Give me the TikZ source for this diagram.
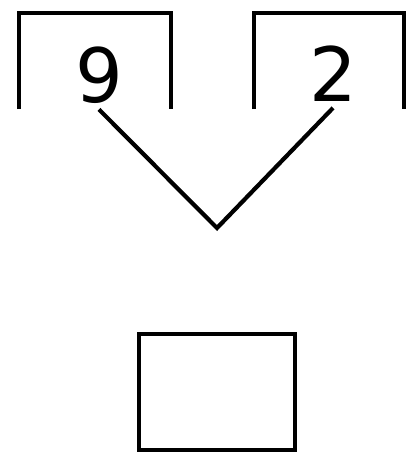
\documentclass[tikz,border=0pt]{standalone}
\usepackage{fontspec}
\newfontfamily\digitfont{DejaVu Sans}
\begin{document}
\begin{tikzpicture}[x=1pt, y=-1pt, line width=4.2pt,
    digit/.style={inner sep=4pt, font=\digitfont\fontsize{75}{75}\selectfont},
    answerbox/.style={draw, minimum width=156pt, minimum height=116pt, inner sep=0pt}]
  \useasboundingbox (0,0) rectangle (407,456);
  % the two open-bottom frames holding the numbers
  \draw (19,109) -- (19,13) -- (171,13) -- (171,109);
  \draw (254,109) -- (254,13) -- (404,13) -- (404,109);
  \node[digit] (nine) at (99,75) {9};
  \node[digit] (two) at (333,74) {2};
  % meeting point of the two branches
  \coordinate (join) at (217,228);
  \draw (nine.south) -- (join) -- (two.south);
  % empty box for the result
  \node[answerbox] (result) at (217,392) {};
\end{tikzpicture}
\end{document}
